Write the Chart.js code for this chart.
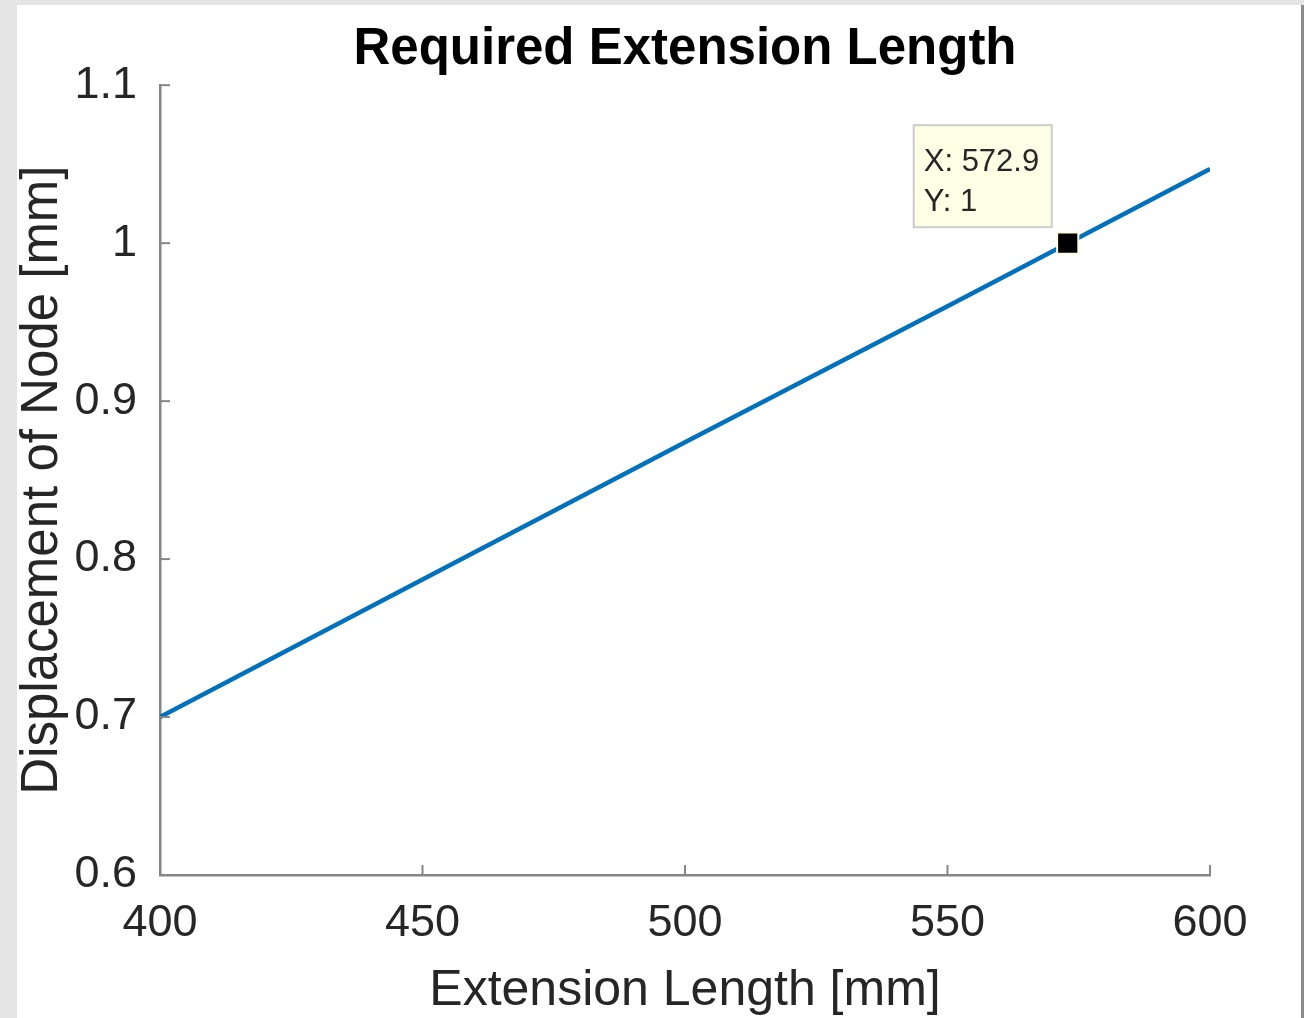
<!DOCTYPE html>
<html>
<head>
<meta charset="utf-8">
<script src="https://cdn.jsdelivr.net/npm/chart.js@4"></script>
<style>
  html, body { margin: 0; padding: 0; background: #e4e4e4; }
  body { width: 1304px; height: 1018px; position: relative; overflow: hidden; }
  #fig {
    position: absolute; left: 17px; top: 5px;
    width: 1284px; height: 1013px;
    background: #fff; border-right: 3px solid #8c8c8c;
  }
  canvas { display: block; }
</style>
</head>
<body>
<div id="fig"><canvas id="myChart" width="1284" height="1013"></canvas></div>
<script>
// data
const extLength = [400, 450, 500, 550, 600];
const displacement = [0.700, 0.787, 0.874, 0.960, 1.047];
// data tip
const tipX = [572.9];
const tipY = [1];
const xTicks = [400, 450, 500, 550, 600];
const yTicks = [0.6, 0.7, 0.8, 0.9, 1.0, 1.1];

const FONT = "'Liberation Sans', Arial, Helvetica, sans-serif";
const TEXT = "#262626";
const AXIS = "#868686";

// MATLAB style ticks point inward
const innerTicks = {
  id: 'innerTicks',
  afterDraw(chart) {
    let ctx = chart.ctx;
    let area = chart.chartArea;
    let xs = chart.scales.x, ys = chart.scales.y;
    ctx.save();
    ctx.strokeStyle = AXIS;
    ctx.lineWidth = 2;
    xTicks.forEach(v => {
      let px = xs.getPixelForValue(v);
      ctx.beginPath();
      ctx.moveTo(px, area.bottom);
      ctx.lineTo(px, area.bottom - 10);
      ctx.stroke();
    });
    yTicks.forEach(v => {
      let py = ys.getPixelForValue(v);
      ctx.beginPath();
      ctx.moveTo(area.left, py);
      ctx.lineTo(area.left + 10, py);
      ctx.stroke();
    });
    ctx.restore();
  }
};

// data tip box next to the marker
const dataTip = {
  id: 'dataTip',
  afterDatasetsDraw(chart) {
    let ctx = chart.ctx;
    let px = chart.scales.x.getPixelForValue(tipX[0]);
    let py = chart.scales.y.getPixelForValue(tipY[0]);
    let w = 138, h = 102;
    let bx = px - 16 - w, by = py - 16 - h;
    ctx.save();
    ctx.fillStyle = "#ffffe6";
    ctx.strokeStyle = "#cdcdcd";
    ctx.lineWidth = 2;
    ctx.fillRect(bx, by, w, h);
    ctx.strokeRect(bx, by, w, h);
    ctx.fillStyle = TEXT;
    ctx.font = "31px " + FONT;
    ctx.textBaseline = "alphabetic";
    ctx.fillText("X: " + tipX[0], bx + 10, by + 46);
    ctx.fillText("Y: " + tipY[0], bx + 10, by + 86);
    ctx.restore();
  }
};

let ctx = document.getElementById("myChart").getContext("2d");

let myChart = new Chart(ctx, {
  type: 'line',
  data: {
    datasets: [{
      label: "Displacement",
      data: extLength.map((x, i) => ({ x: x, y: displacement[i] })),
      borderColor: "#0072BD",
      borderWidth: 4.5,
      pointRadius: 0,
      fill: false,
      tension: 0,
      order: 2
    }, {
      label: "Data tip",
      data: tipX.map((x, i) => ({ x: x, y: tipY[i] })),
      showLine: false,
      pointStyle: 'rect',
      pointRadius: 15,
      backgroundColor: "#000000",
      borderColor: "#ffffe6",
      borderWidth: 2,
      order: 1
    }]
  },
  options: {
    responsive: false,
    animation: false,
    devicePixelRatio: 1,
    layout: { padding: { left: 0, right: 91, top: 0, bottom: 0 } },
    plugins: {
      legend: { display: false },
      tooltip: { enabled: false },
      title: {
        display: true,
        text: "Required Extension Length",
        color: "#000000",
        fullSize: false,
        font: { family: FONT, size: 51, weight: 'bold', lineHeight: 1.2 },
        padding: { top: 14, bottom: 5 }
      }
    },
    scales: {
      x: {
        type: 'linear',
        min: 400,
        max: 600,
        afterFit: scale => { scale.height = 143; },
        afterBuildTicks: scale => { scale.ticks = xTicks.map(v => ({ value: v })); },
        grid: { display: false, drawTicks: false },
        border: { display: true, color: AXIS, width: 2.5 },
        ticks: {
          color: TEXT,
          padding: 22,
          maxRotation: 0,
          font: { family: FONT, size: 45 },
          callback: v => String(v)
        },
        title: {
          display: true,
          text: "Extension Length [mm]",
          color: TEXT,
          font: { family: FONT, size: 50, lineHeight: 1 },
          padding: { top: 0, bottom: 2 }
        }
      },
      y: {
        type: 'linear',
        min: 0.6,
        max: 1.1,
        afterFit: scale => { scale.width = 143; },
        afterBuildTicks: scale => { scale.ticks = yTicks.map(v => ({ value: v })); },
        grid: { display: false, drawTicks: false },
        border: { display: true, color: AXIS, width: 2.5 },
        ticks: {
          color: TEXT,
          padding: 23,
          font: { family: FONT, size: 45 },
          callback: v => String(+v.toFixed(1))
        },
        title: {
          display: true,
          text: "Displacement of Node [mm]",
          color: TEXT,
          font: { family: FONT, size: 51, lineHeight: 1 },
          padding: { top: 0, bottom: 0 }
        }
      }
    }
  },
  plugins: [innerTicks, dataTip]
});
</script>
</body>
</html>
